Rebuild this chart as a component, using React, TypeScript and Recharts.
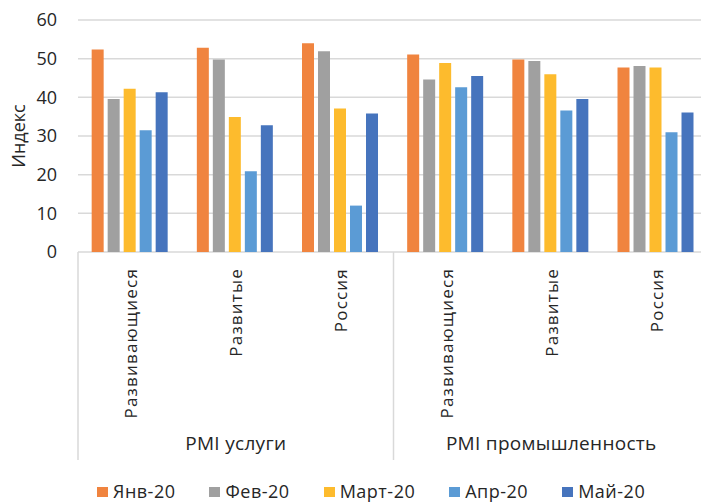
import React from 'react';
import { BarChart, Bar, XAxis, YAxis, CartesianGrid, Legend } from 'recharts';

const regions = ['Развивающиеся', 'Развитые', 'Россия', 'Развивающиеся', 'Развитые', 'Россия'];
const groups = ['PMI услуги', 'PMI услуги', 'PMI услуги', 'PMI промышленность', 'PMI промышленность', 'PMI промышленность'];
const seriesNames = ['Янв-20', 'Фев-20', 'Март-20', 'Апр-20', 'Май-20'];
const jan = [52.4, 52.8, 54.0, 51.1, 49.8, 47.7];
const feb = [39.6, 49.8, 51.9, 44.6, 49.4, 48.1];
const mar = [42.2, 34.9, 37.1, 48.9, 46.0, 47.7];
const apr = [31.5, 20.9, 12.0, 42.6, 36.6, 31.0];
const may = [41.3, 32.8, 35.8, 45.5, 39.6, 36.1];
const yTicks = [0, 10, 20, 30, 40, 50, 60];
const yLabel = 'Индекс';

const seriesValues = [jan, feb, mar, apr, may];
const colors = ['#F0843F', '#A0A0A0', '#FDBB2D', '#5B9BD5', '#4674BD'];

const data = regions.map((r, i) => {
  const row: any = { idx: i, region: r, group: groups[i] };
  seriesValues.forEach((vals, s) => {
    row['s' + s] = vals[i];
  });
  return row;
});

const CHART_W = 709;
const CHART_H = 502;
const Y_AXIS_W = 78;
const BAND = (CHART_W - Y_AXIS_W) / regions.length;
const FONT = '"Open Sans", sans-serif';
const TEXT = '#262626';
const LINE = '#D9D9D9';

const RegionTick = (props: any) => {
  const { x, y, payload } = props;
  const i = payload.value;
  const label = regions[i];
  const left = x - BAND / 2;
  const showSep = i === 0 || groups[i] !== groups[i - 1];
  return (
    <g>
      {showSep && <line x1={left} x2={left} y1={y} y2={y + 208} stroke={LINE} strokeWidth={1.5} />}
      <text
        x={x}
        y={y + 16}
        transform={`rotate(-90, ${x}, ${y + 16})`}
        textAnchor="end"
        dominantBaseline="central"
        fontFamily={FONT}
        fontSize={17}
        letterSpacing={1.2}
        fill={TEXT}
      >
        {label}
      </text>
    </g>
  );
};

const GroupTick = (props: any) => {
  const { x, y, payload } = props;
  const i = payload.value;
  const g = groups[i];
  const first = groups.indexOf(g);
  const last = groups.lastIndexOf(g);
  if (i !== Math.floor((first + last) / 2)) return <g />;
  return (
    <text x={x} y={y + 21} textAnchor="middle" dominantBaseline="central" fontFamily={FONT} fontSize={19} letterSpacing={0.3} fill={TEXT}>
      {g}
    </text>
  );
};

const YLabel = (props: any) => {
  const vb = props.viewBox || { x: 0, y: 20, width: 78, height: 232 };
  const cx = vb.x + 18;
  const cy = vb.y + vb.height / 2;
  return (
    <text x={cx} y={cy} transform={`rotate(-90, ${cx}, ${cy})`} textAnchor="middle" dominantBaseline="central" fontFamily={FONT} fontSize={18} fill={TEXT}>
      {yLabel}
    </text>
  );
};

const LegendContent = () => (
  <div
    style={{
      height: 40,
      display: 'flex',
      alignItems: 'flex-end',
      paddingLeft: 97,
      paddingBottom: 0,
      boxSizing: 'border-box',
      fontFamily: FONT,
      fontSize: 18,
      letterSpacing: 0.5,
      color: TEXT,
    }}
  >
    {seriesNames.map((n, s) => (
      <div key={n} style={{ display: 'flex', alignItems: 'center', marginRight: 34, height: 21, lineHeight: '21px' }}>
        <span style={{ display: 'inline-block', width: 11, height: 10, background: colors[s], marginRight: 5 }} />
        <span>{n}</span>
      </div>
    ))}
  </div>
);

export default function App() {
  return (
    <div style={{ position: 'absolute', left: 0, top: 0, width: 701, height: 502, overflow: 'hidden', background: '#fff' }}>
      <BarChart
        width={CHART_W}
        height={CHART_H}
        data={data}
        margin={{ top: 20, right: 0, left: 0, bottom: 0 }}
        barCategoryGap="13%"
        barGap={4}
      >
        <CartesianGrid vertical={false} stroke={LINE} strokeWidth={1.5} />
        <XAxis
          dataKey="idx"
          type="category"
          height={170}
          tick={<RegionTick />}
          tickLine={false}
          axisLine={false}
          tickSize={0}
          tickMargin={0}
          interval={0}
        />
        <XAxis
          xAxisId="grp"
          dataKey="idx"
          type="category"
          height={40}
          tick={<GroupTick />}
          tickLine={false}
          axisLine={false}
          tickSize={0}
          tickMargin={0}
          interval={0}
        />
        <YAxis
          width={Y_AXIS_W}
          domain={[0, 60]}
          ticks={yTicks}
          tickLine={false}
          axisLine={false}
          tickSize={0}
          tickMargin={21}
          tick={{ fontFamily: FONT, fontSize: 18, fill: TEXT }}
          label={<YLabel />}
        />
        <Legend verticalAlign="bottom" content={<LegendContent />} wrapperStyle={{ height: 40 }} />
        {seriesNames.map((n, s) => (
          <Bar key={n} dataKey={'s' + s} name={n} fill={colors[s]} isAnimationActive={false} />
        ))}
      </BarChart>
    </div>
  );
}
